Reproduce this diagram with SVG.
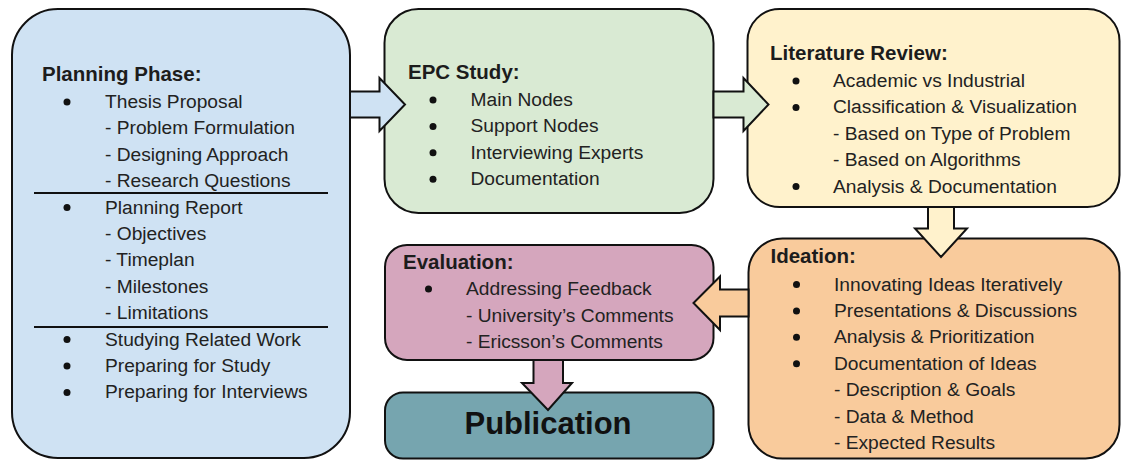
<svg xmlns="http://www.w3.org/2000/svg" width="1122" height="461" viewBox="0 0 1122 461">
  <style>
    .box { stroke: #111; stroke-width: 2; }
    .arrow { stroke: #111; stroke-width: 2; stroke-linejoin: miter; }
    .title { font-family: "Liberation Sans", Arial, sans-serif; font-weight: bold; font-size: 20.5px; fill: #1c1c1c; }
    .item { font-family: "Liberation Sans", Arial, sans-serif; font-size: 19.2px; fill: #222; }
    .big { font-family: "Liberation Sans", Arial, sans-serif; font-weight: bold; font-size: 31px; fill: #111; }
    .dot { fill: #111; }
    .rule { stroke: #111; stroke-width: 2; }
    .blue { fill: #cfe2f3; }
    .green { fill: #d9ead3; }
    .yellow { fill: #fff2cc; }
    .orange { fill: #f9cb9c; }
    .magenta { fill: #d5a6bd; }
    .cyan { fill: #76a5af; }
  </style>
  <rect width="1122" height="461" fill="#ffffff"/>

  <!-- Planning phase -->
  <g id="planning">
    <rect class="box blue" x="12" y="9" width="338" height="449" rx="46" ry="46"/>
    <text class="title" x="42" y="81">Planning Phase:</text>
    <circle class="dot" cx="67" cy="102" r="3.5"/>
    <text class="item" x="105" y="108">Thesis Proposal</text>
    <text class="item" x="105" y="134.4">- Problem Formulation</text>
    <text class="item" x="105" y="160.8">- Designing Approach</text>
    <text class="item" x="105" y="187.2">- Research Questions</text>
    <line class="rule" x1="34" y1="193" x2="328" y2="193"/>
    <circle class="dot" cx="67" cy="207.6" r="3.5"/>
    <text class="item" x="105" y="213.6">Planning Report</text>
    <text class="item" x="105" y="240">- Objectives</text>
    <text class="item" x="105" y="266.4">- Timeplan</text>
    <text class="item" x="105" y="292.8">- Milestones</text>
    <text class="item" x="105" y="319.2">- Limitations</text>
    <line class="rule" x1="34" y1="327" x2="328" y2="327"/>
    <circle class="dot" cx="67" cy="339.6" r="3.5"/>
    <text class="item" x="105" y="345.6">Studying Related Work</text>
    <circle class="dot" cx="67" cy="366" r="3.5"/>
    <text class="item" x="105" y="372">Preparing for Study</text>
    <circle class="dot" cx="67" cy="392.4" r="3.5"/>
    <text class="item" x="105" y="398.4">Preparing for Interviews</text>
  </g>

  <!-- EPC study -->
  <g id="epc-study">
    <rect class="box green" x="384.5" y="9" width="329" height="204" rx="34" ry="34"/>
    <text class="title" x="408" y="78.5">EPC Study:</text>
    <circle class="dot" cx="433" cy="100" r="3.5"/>
    <text class="item" x="470.5" y="106">Main Nodes</text>
    <circle class="dot" cx="433" cy="126.4" r="3.5"/>
    <text class="item" x="470.5" y="132.4">Support Nodes</text>
    <circle class="dot" cx="433" cy="152.8" r="3.5"/>
    <text class="item" x="470.5" y="158.8">Interviewing Experts</text>
    <circle class="dot" cx="433" cy="179.2" r="3.5"/>
    <text class="item" x="470.5" y="185.2">Documentation</text>
  </g>

  <!-- Literature review -->
  <g id="literature-review">
    <rect class="box yellow" x="747.5" y="9" width="372" height="198" rx="32" ry="32"/>
    <text class="title" x="770" y="60">Literature Review:</text>
    <circle class="dot" cx="796" cy="81" r="3.5"/>
    <text class="item" x="833" y="87">Academic vs Industrial</text>
    <circle class="dot" cx="796" cy="107.4" r="3.5"/>
    <text class="item" x="833" y="113.4">Classification &amp; Visualization</text>
    <text class="item" x="833" y="139.8">- Based on Type of Problem</text>
    <text class="item" x="833" y="166.2">- Based on Algorithms</text>
    <circle class="dot" cx="796" cy="186.6" r="3.5"/>
    <text class="item" x="833" y="192.6">Analysis &amp; Documentation</text>
  </g>

  <!-- Ideation -->
  <g id="ideation">
    <rect class="box orange" x="748.5" y="238.5" width="371" height="220" rx="34" ry="34"/>
    <text class="title" x="770.5" y="262.5">Ideation:</text>
    <circle class="dot" cx="796.5" cy="284.5" r="3.5"/>
    <text class="item" x="834" y="290.5">Innovating Ideas Iteratively</text>
    <circle class="dot" cx="796.5" cy="310.9" r="3.5"/>
    <text class="item" x="834" y="316.9">Presentations &amp; Discussions</text>
    <circle class="dot" cx="796.5" cy="337.3" r="3.5"/>
    <text class="item" x="834" y="343.3">Analysis &amp; Prioritization</text>
    <circle class="dot" cx="796.5" cy="363.7" r="3.5"/>
    <text class="item" x="834" y="369.7">Documentation of Ideas</text>
    <text class="item" x="834" y="396.1">- Description &amp; Goals</text>
    <text class="item" x="834" y="422.5">- Data &amp; Method</text>
    <text class="item" x="834" y="448.9">- Expected Results</text>
  </g>

  <!-- Evaluation -->
  <g id="evaluation">
    <rect class="box magenta" x="385" y="245" width="328.5" height="115" rx="22" ry="22"/>
    <text class="title" x="403" y="268.5">Evaluation:</text>
    <circle class="dot" cx="428.5" cy="289" r="3.5"/>
    <text class="item" x="466" y="295">Addressing Feedback</text>
    <text class="item" x="466" y="321.5">- University’s Comments</text>
    <text class="item" x="466" y="348">- Ericsson’s Comments</text>
  </g>

  <!-- Publication -->
  <g id="publication">
    <rect class="box cyan" x="385" y="392.5" width="328.5" height="66" rx="18" ry="18"/>
    <text class="big" x="548" y="433.5" text-anchor="middle">Publication</text>
  </g>

  <!-- Block arrows between phases -->
  <g id="connectors">
    <path class="arrow blue" d="M350 91.5 H379.5 V78 L405 104.5 L379.5 131 V117.5 H350 Z"/>
    <path class="arrow green" d="M713.5 91.5 H743.5 V78 L768.5 104.5 L743.5 131 V117.5 H713.5 Z"/>
    <path class="arrow yellow" d="M928 207 V228.5 H915 L941 257 L967 228.5 H954 V207 Z"/>
    <path class="arrow orange" d="M748.5 289.5 H720 V276.5 L693.5 303 L720 330 V316.5 H748.5 Z"/>
    <path class="arrow magenta" d="M533.5 360 V383 H522 L548 410 L572 383 H563 V360 Z"/>
  </g>
</svg>
